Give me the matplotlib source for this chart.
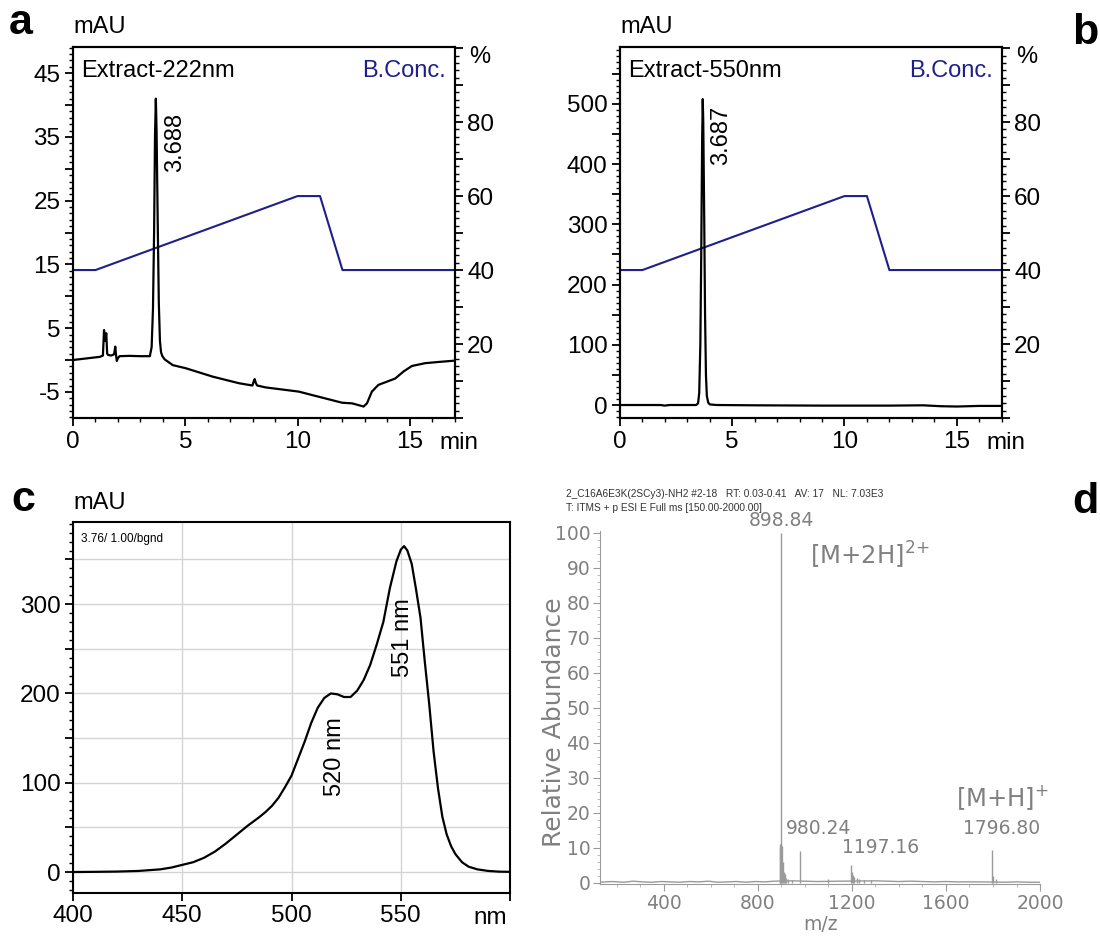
import matplotlib.pyplot as plt
from matplotlib.ticker import MultipleLocator, FuncFormatter

plt.rcParams['font.family'] = ['Liberation Sans', 'DejaVu Sans']

# ---- panel a: extract 222 nm ----
t_222 = [0, 0.6, 1.2, 1.33, 1.38, 1.43, 1.48, 1.52, 1.56, 1.7, 1.83, 1.88, 1.92, 1.95,
         2.0, 2.07, 2.5, 3.0, 3.42, 3.5, 3.56, 3.61, 3.65, 3.688, 3.72, 3.77, 3.82,
         3.87, 3.92, 3.98, 4.08, 4.44, 5.03, 6.21, 7.4, 7.99, 8.05, 8.09, 8.14, 8.2,
         8.58, 10.06, 10.65, 11.54, 11.98, 12.43, 12.94, 13.09, 13.31, 13.6, 13.98,
         14.35, 14.72, 15.09, 15.68, 16.3, 17.0]
mau_222 = [0, 0.25, 0.5, 0.7, 4.7, 3.0, 4.2, 1.0, 0.8, 0.7, 0.9, 2.1, 0.6, -0.15,
           0.3, 0.6, 0.65, 0.6, 0.6, 2, 8, 20, 35, 41, 36, 22, 9,
           3, 1.2, 0.6, 0.1, -0.8, -1.3, -2.6, -3.65, -4.0, -3.3, -3.0, -3.6, -4.0,
           -4.3, -4.96, -5.5, -6.3, -6.7, -6.8, -7.3, -6.8, -4.96, -3.9, -3.4,
           -2.9, -1.8, -0.94, -0.5, -0.3, -0.1]

# ---- panel b: extract 550 nm ----
t_550 = [0, 1.8, 2.0, 2.2, 3.4, 3.48, 3.53, 3.58, 3.62, 3.66, 3.687, 3.71, 3.75,
         3.79, 3.83, 3.87, 3.93, 4.0, 4.3, 6, 9, 12, 13.5, 14.3, 15.0, 16, 17]
mau_550 = [0, 0, -1, 0, 0, 3, 20, 100, 250, 440, 508, 470, 320,
           150, 50, 15, 4, 1, 0, -0.5, -1, -1, -0.5, -2, -2.5, -1.5, -1.5]

# gradient (B.Conc., %)
bc_time = [0, 1, 10, 11, 12, 17]
bc_pct = [40, 40, 60, 60, 40, 40]

# ---- panel c: UV-vis spectrum ----
wl = [400, 410, 420, 430, 440, 445, 450, 455, 460, 465, 470, 475, 480, 485, 488,
      491, 494, 497, 500, 503, 506, 509, 512, 515, 518, 521, 524, 527, 530, 533,
      536, 539, 542, 545, 548, 550, 551.5, 553, 555, 557, 559, 561, 563, 565, 567,
      569, 571, 573, 575, 578, 581, 585, 590, 595, 600]
absb = [0, 0.2, 0.5, 1.2, 3, 5, 8, 11, 16, 23, 32, 42, 52, 61, 67,
        74, 83, 95, 108, 127, 146, 167, 184, 195, 200, 199, 196, 196, 203, 215,
        232, 255, 280, 318, 348, 361, 365, 360, 345, 316, 285, 235, 188, 135, 94,
        62, 42, 29, 20, 11, 6, 3, 1.2, 0.4, 0.2]

# ---- panel d: mass spectrum ----
ms_mz = [893, 896, 898.84, 901, 904, 907, 910, 915, 920, 930, 945, 980.24,
         1100, 1197.16, 1200, 1205, 1210, 1220, 1230, 1250, 1280, 1796.80, 1800, 1812]
ms_int = [10, 11, 100, 11, 10.5, 6, 3, 2.5, 1.5, 1, 0.8, 9,
          1.2, 5, 3, 2.2, 1.8, 1.3, 1, 0.8, 0.7, 9.5, 2, 1]
base_mz = [130, 180, 230, 270, 310, 350, 390, 430, 470, 510, 550, 590, 630, 670,
           710, 750, 790, 830, 870, 950, 1000, 1050, 1150, 1300, 1350, 1400, 1450,
           1500, 1550, 1600, 1650, 1700, 1750, 1850, 1900, 1950, 2000]
base_int = [0.2, 0.4, 0.2, 0.5, 0.3, 0.2, 0.4, 0.3, 0.2, 0.4, 0.3, 0.5, 0.2, 0.3,
            0.4, 0.2, 0.4, 0.3, 0.5, 0.6, 0.5, 0.4, 0.5, 0.6, 0.5, 0.4, 0.5,
            0.4, 0.3, 0.4, 0.3, 0.3, 0.3, 0.2, 0.3, 0.2, 0.2]
ms_labels = [(898.84, 100.9, '898.84'), (1057, 12.8, '980.24'),
             (1323, 7.4, '1197.16'), (1836, 12.8, '1796.80')]

navy = '#1f1f8c'
gray = '#808080'
fs = 17
tfs = 17.5

fig = plt.figure(figsize=(11, 9.4), dpi=100)


def chrom_panel(rect, t, y, ylim, lab_major, y_major, y_minor, title, peak_lbl, peak_xy):
    ax = fig.add_axes(rect)
    ax2 = ax.twinx()
    ax2.plot(bc_time, bc_pct, color=navy, lw=1.5)
    ax.plot(t, y, color='black', lw=1.6)
    ax.set_zorder(ax2.get_zorder() + 1)
    ax.patch.set_visible(False)
    ax.set_xlim(0, 17)
    ax.set_ylim(*ylim)
    ax2.set_ylim(0, 100.3)
    ax.xaxis.set_major_locator(MultipleLocator(5))
    ax.xaxis.set_minor_locator(MultipleLocator(1))
    ax.yaxis.set_major_locator(MultipleLocator(y_major))
    ax.yaxis.set_minor_locator(MultipleLocator(y_minor))
    ax.yaxis.set_major_formatter(FuncFormatter(
        lambda v, p: f'{v:g}' if lab_major(round(v)) else ''))
    ax2.yaxis.set_major_locator(MultipleLocator(10))
    ax2.yaxis.set_minor_locator(MultipleLocator(2))
    ax2.yaxis.set_major_formatter(FuncFormatter(
        lambda v, p: f'{v:g}' if round(v) in (20, 40, 60, 80) else ''))
    for a in (ax, ax2):
        a.tick_params(which='major', length=6, width=1.3, labelsize=tfs, pad=3)
        a.tick_params(which='minor', length=3, width=1)
        for s in a.spines.values():
            s.set_linewidth(1.5)
    ax.tick_params(axis='x', which='both', top=False)
    ax.text(0.021, 0.935, title, transform=ax.transAxes, fontsize=fs,
            ha='left', va='center')
    ax.text(0.976, 0.935, 'B.Conc.', transform=ax.transAxes, fontsize=fs,
            color=navy, ha='right', va='center')
    ax.text(0.0, 1.055, 'mAU', transform=ax.transAxes, fontsize=fs,
            ha='left', va='center')
    ax.text(1.065, 0.973, '%', transform=ax.transAxes, fontsize=fs,
            ha='center', va='center')
    ax.text(1.01, -0.068, 'min', transform=ax.transAxes, fontsize=tfs,
            ha='center', va='center')
    ax.text(peak_xy[0], peak_xy[1], peak_lbl, rotation=90, fontsize=fs,
            ha='center', va='top')
    return ax


chrom_panel([0.0664, 0.5553, 0.347, 0.3947], t_222, mau_222, (-9.1, 49.1),
            lambda v: v % 10 == 5, 5, 1, 'Extract-222nm', '3.688', (4.55, 38.8))
chrom_panel([0.5636, 0.5553, 0.347, 0.3947], t_550, mau_550, (-21.6, 594.6),
            lambda v: v % 100 == 0, 50, 10, 'Extract-550nm', '3.687', (4.5, 497))

# ---- panel c ----
axc = fig.add_axes([0.0664, 0.05, 0.3973, 0.3947])
axc.plot(wl, absb, color='black', lw=1.6)
axc.set_xlim(400, 600)
axc.set_ylim(-23.5, 392)
axc.xaxis.set_major_locator(MultipleLocator(50))
axc.yaxis.set_major_locator(MultipleLocator(50))
axc.yaxis.set_minor_locator(MultipleLocator(10))
axc.xaxis.set_major_formatter(FuncFormatter(lambda v, p: f'{v:g}' if v < 600 else ''))
axc.yaxis.set_major_formatter(FuncFormatter(lambda v, p: f'{v:g}' if round(v) % 100 == 0 else ''))
axc.grid(True, which='major', color='#d4d4d4', lw=1)
axc.set_axisbelow(True)
axc.tick_params(which='major', length=6, width=1.3, labelsize=tfs, pad=3)
axc.tick_params(which='minor', length=3, width=1)
for s in axc.spines.values():
    s.set_linewidth(1.5)
axc.text(0.954, -0.068, 'nm', transform=axc.transAxes, fontsize=tfs,
         ha='center', va='center')
axc.text(0.0, 1.05, 'mAU', transform=axc.transAxes, fontsize=fs,
         ha='left', va='center')
axc.text(0.018, 0.955, '3.76/ 1.00/bgnd', transform=axc.transAxes, fontsize=8.5,
         ha='left', va='center')
axc.text(520, 129, '520 nm', rotation=90, fontsize=17, ha='center', va='center')
axc.text(551, 263, '551 nm', rotation=90, fontsize=17, ha='center', va='center')

# ---- panel d ----
axd = fig.add_axes([0.5455, 0.0596, 0.4, 0.3753])
axd.plot(base_mz, base_int, color='#9a9a9a', lw=1)
axd.vlines(ms_mz, 0, ms_int, color='#9a9a9a', lw=1)
axd.set_xlim(130, 2000)
axd.set_ylim(-0.3, 100.5)
axd.xaxis.set_major_locator(MultipleLocator(400))
axd.xaxis.set_minor_locator(MultipleLocator(100))
axd.yaxis.set_major_locator(MultipleLocator(10))
axd.yaxis.set_minor_locator(MultipleLocator(2))
for sp in ('top', 'right'):
    axd.spines[sp].set_visible(False)
for sp in ('left', 'bottom'):
    axd.spines[sp].set_color('#9a9a9a')
axd.tick_params(which='major', length=5, color='#9a9a9a', labelcolor=gray,
                labelsize=13.5, pad=2)
axd.tick_params(which='minor', length=2.5, color='#b0b0b0')
for lbl in axd.get_xticklabels() + axd.get_yticklabels():
    lbl.set_family('DejaVu Sans')
axd.set_xlabel('m/z', fontsize=13.5, color=gray, family='DejaVu Sans', labelpad=2)
axd.set_ylabel('Relative Abundance', fontsize=18, color=gray, family='DejaVu Sans')
axd.yaxis.set_label_coords(-0.078, 0.46)
for x, y, s in ms_labels:
    axd.text(x, y, s, fontsize=13.5, color=gray, family='DejaVu Sans',
             ha='center', va='bottom')
axd.text(1021, 93.5, r'[M+2H]$^{2}$$^{+}$', fontsize=17.5, color=gray,
         family='DejaVu Sans', ha='left', va='center')
axd.text(1643, 24.3, r'[M+H]$^{+}$', fontsize=17.5, color=gray, family='DejaVu Sans',
         ha='left', va='center')
fig.text(0.515, 0.4745, '2_C16A6E3K(2SCy3)-NH2 #2-18   RT: 0.03-0.41   AV: 17   NL: 7.03E3',
         fontsize=7.3, color='#333333', ha='left', va='center')
fig.text(0.515, 0.46, 'T: ITMS + p ESI E Full ms [150.00-2000.00]',
         fontsize=7.3, color='#333333', ha='left', va='center')

# panel letters
for x, y, s, ha in [(0.008, 0.975, 'a', 'left'), (0.999, 0.965, 'b', 'right'),
                    (0.01, 0.468, 'c', 'left'), (0.999, 0.466, 'd', 'right')]:
    fig.text(x, y, s, fontsize=31, fontweight='bold', ha=ha, va='center')

fig.savefig('out.png', dpi=100)
